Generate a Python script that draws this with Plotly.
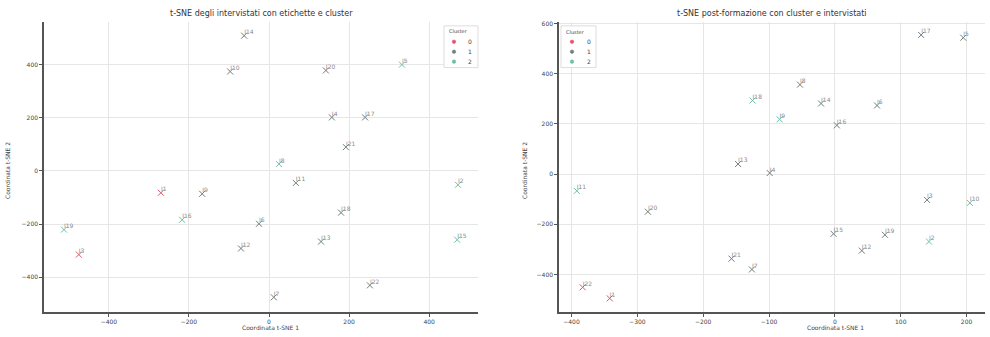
import plotly.graph_objects as go

# Left chart: t-SNE degli intervistati
left_x = [-62, -97, 142, 332, 157, 240, 192, 25, 67, 472, -270, -167, -217, -25, 180, -512, -475, -70, 130, 470, 252, 12]
left_y = [510, 375, 379, 401, 202, 202, 90, 26, -45, -52, -82, -86, -184, -199, -157, -221, -315, -292, -266, -259, -431, -476]
left_cluster = [1, 1, 1, 2, 1, 1, 1, 2, 1, 2, 0, 1, 2, 1, 1, 2, 0, 1, 1, 2, 1, 1]
left_labels = ["I14", "I10", "I20", "I5", "I4", "I17", "I21", "I8", "I11", "I2", "I1", "I9", "I16", "I6", "I18", "I19", "I3", "I12", "I13", "I15", "I22", "I7"]

# Right chart: t-SNE post-formazione
right_x = [131, 195, -53, -125, -21, 64, -84, 3, -147, -99, -392, -284, 140, 205, -2, 76, 143, 41, -157, -126, -383, -342]
right_y = [554, 543, 356, 293, 281, 273, 218, 194, 40, 4, -67, -150, -103, -115, -238, -242, -269, -305, -337, -380, -451, -495]
right_cluster = [1, 1, 1, 2, 1, 1, 2, 1, 1, 1, 2, 1, 1, 2, 1, 1, 2, 1, 1, 1, 0, 0]
right_labels = ["I17", "I5", "I8", "I18", "I14", "I6", "I9", "I16", "I13", "I4", "I11", "I20", "I3", "I10", "I15", "I19", "I2", "I12", "I21", "I7", "I22", "I1"]

cluster_names = ["0", "1", "2"]
cluster_colors = ["#e0546a", "#6f7f7a", "#6cbfa8"]
label_color = "#8a8a8a"

W, H = 990, 337
def px(x):
    return x / W
def py(y):
    return 1 - y / H

fig = go.Figure()

def add_panel(xs, ys, cl, labels, xa, ya):
    for k, name in enumerate(cluster_names):
        idx = [i for i, c in enumerate(cl) if c == k]
        fig.add_trace(go.Scatter(
            x=[xs[i] for i in idx], y=[ys[i] for i in idx],
            mode="markers", name=name, showlegend=False,
            marker=dict(symbol="x-thin", size=6, color=cluster_colors[k],
                        line=dict(width=1, color=cluster_colors[k])),
            xaxis=xa, yaxis=ya, hoverinfo="skip"))
    fig.add_trace(go.Scatter(
        x=xs, y=ys, mode="text", text=labels, textposition="top right",
        textfont=dict(size=6, color=label_color, family="DejaVu Sans"),
        showlegend=False, xaxis=xa, yaxis=ya, hoverinfo="skip"))

add_panel(left_x, left_y, left_cluster, left_labels, "x", "y")
add_panel(right_x, right_y, right_cluster, right_labels, "x2", "y2")

axis_common = dict(showgrid=True, gridcolor="#e6e6e6", gridwidth=1, zeroline=False,
                   showline=True, linecolor="#555", linewidth=1.5, ticks="outside",
                   ticklen=3, tickcolor="#555", tickfont=dict(size=6, color="#444"),
                   mirror=False)

shapes = []
annotations = []

def add_legend(x0, y0, x1, y1, title_xy, dot_x, text_x, rows_y):
    shapes.append(dict(type="rect", xref="paper", yref="paper",
                       x0=px(x0), x1=px(x1), y0=py(y1), y1=py(y0),
                       line=dict(color="#dddddd", width=1), fillcolor="rgba(255,255,255,0.85)"))
    annotations.append(dict(text="Cluster", x=px(title_xy[0]), y=py(title_xy[1]), xref="paper", yref="paper",
                            xanchor="left", yanchor="middle", showarrow=False,
                            font=dict(size=5, color="#444")))
    for k, name in enumerate(cluster_names):
        r = 1.8
        shapes.append(dict(type="circle", xref="paper", yref="paper",
                           x0=px(dot_x - r), x1=px(dot_x + r), y0=py(rows_y[k] + r), y1=py(rows_y[k] - r),
                           line=dict(color=cluster_colors[k], width=0.5), fillcolor=cluster_colors[k]))
        annotations.append(dict(text=name, x=px(text_x), y=py(rows_y[k]), xref="paper", yref="paper",
                                xanchor="left", yanchor="middle", showarrow=False,
                                font=dict(size=6, color="#444")))

add_legend(444, 24, 478, 66, (447, 29), 454, 466, [40, 50, 60])
add_legend(561, 24, 596, 66, (564, 30), 572, 585, [40, 50, 60])

# titles
annotations.append(dict(text="t-SNE degli intervistati con etichette e cluster", x=px(261), y=py(12),
                        xref="paper", yref="paper", xanchor="center", yanchor="middle", showarrow=False,
                        font=dict(size=8, color="#333")))
annotations.append(dict(text="t-SNE post-formazione con cluster e intervistati", x=px(772), y=py(12),
                        xref="paper", yref="paper", xanchor="center", yanchor="middle", showarrow=False,
                        font=dict(size=8, color="#333")))
# axis titles
for xc, yc in [(270, 327), (835, 327)]:
    annotations.append(dict(text="Coordinata t-SNE 1", x=px(xc), y=py(yc), xref="paper", yref="paper",
                            xanchor="center", yanchor="middle", showarrow=False,
                            font=dict(size=6, color="#444")))
for xc, yc in [(8, 170), (525, 170)]:
    annotations.append(dict(text="Coordinata t-SNE 2", x=px(xc), y=py(yc), xref="paper", yref="paper",
                            xanchor="center", yanchor="middle", showarrow=False, textangle=-90,
                            font=dict(size=6, color="#444")))

fig.update_layout(
    width=W, height=H, margin=dict(l=0, r=0, t=0, b=0),
    paper_bgcolor="white", plot_bgcolor="white",
    font=dict(family="DejaVu Sans", size=7, color="#333"),
    showlegend=False,
    xaxis=dict(domain=[px(44), px(478)], range=[-562, 522], tickvals=[-400, -200, 0, 200, 400],
               anchor="y", **axis_common),
    yaxis=dict(domain=[py(312), py(20)], range=[-532, 562], tickvals=[-400, -200, 0, 200, 400],
               anchor="x", **axis_common),
    xaxis2=dict(domain=[px(559), px(985)], range=[-419, 228], tickvals=[-400, -300, -200, -100, 0, 100, 200],
                anchor="y2", **axis_common),
    yaxis2=dict(domain=[py(312), py(20)], range=[-550, 606], tickvals=[-400, -200, 0, 200, 400, 600],
                anchor="x2", **axis_common),
    shapes=shapes,
    annotations=annotations,
)

fig.write_html("out.html", config={"displayModeBar": False},
               post_script="document.body.style.margin='0';document.body.style.overflow='hidden';")
